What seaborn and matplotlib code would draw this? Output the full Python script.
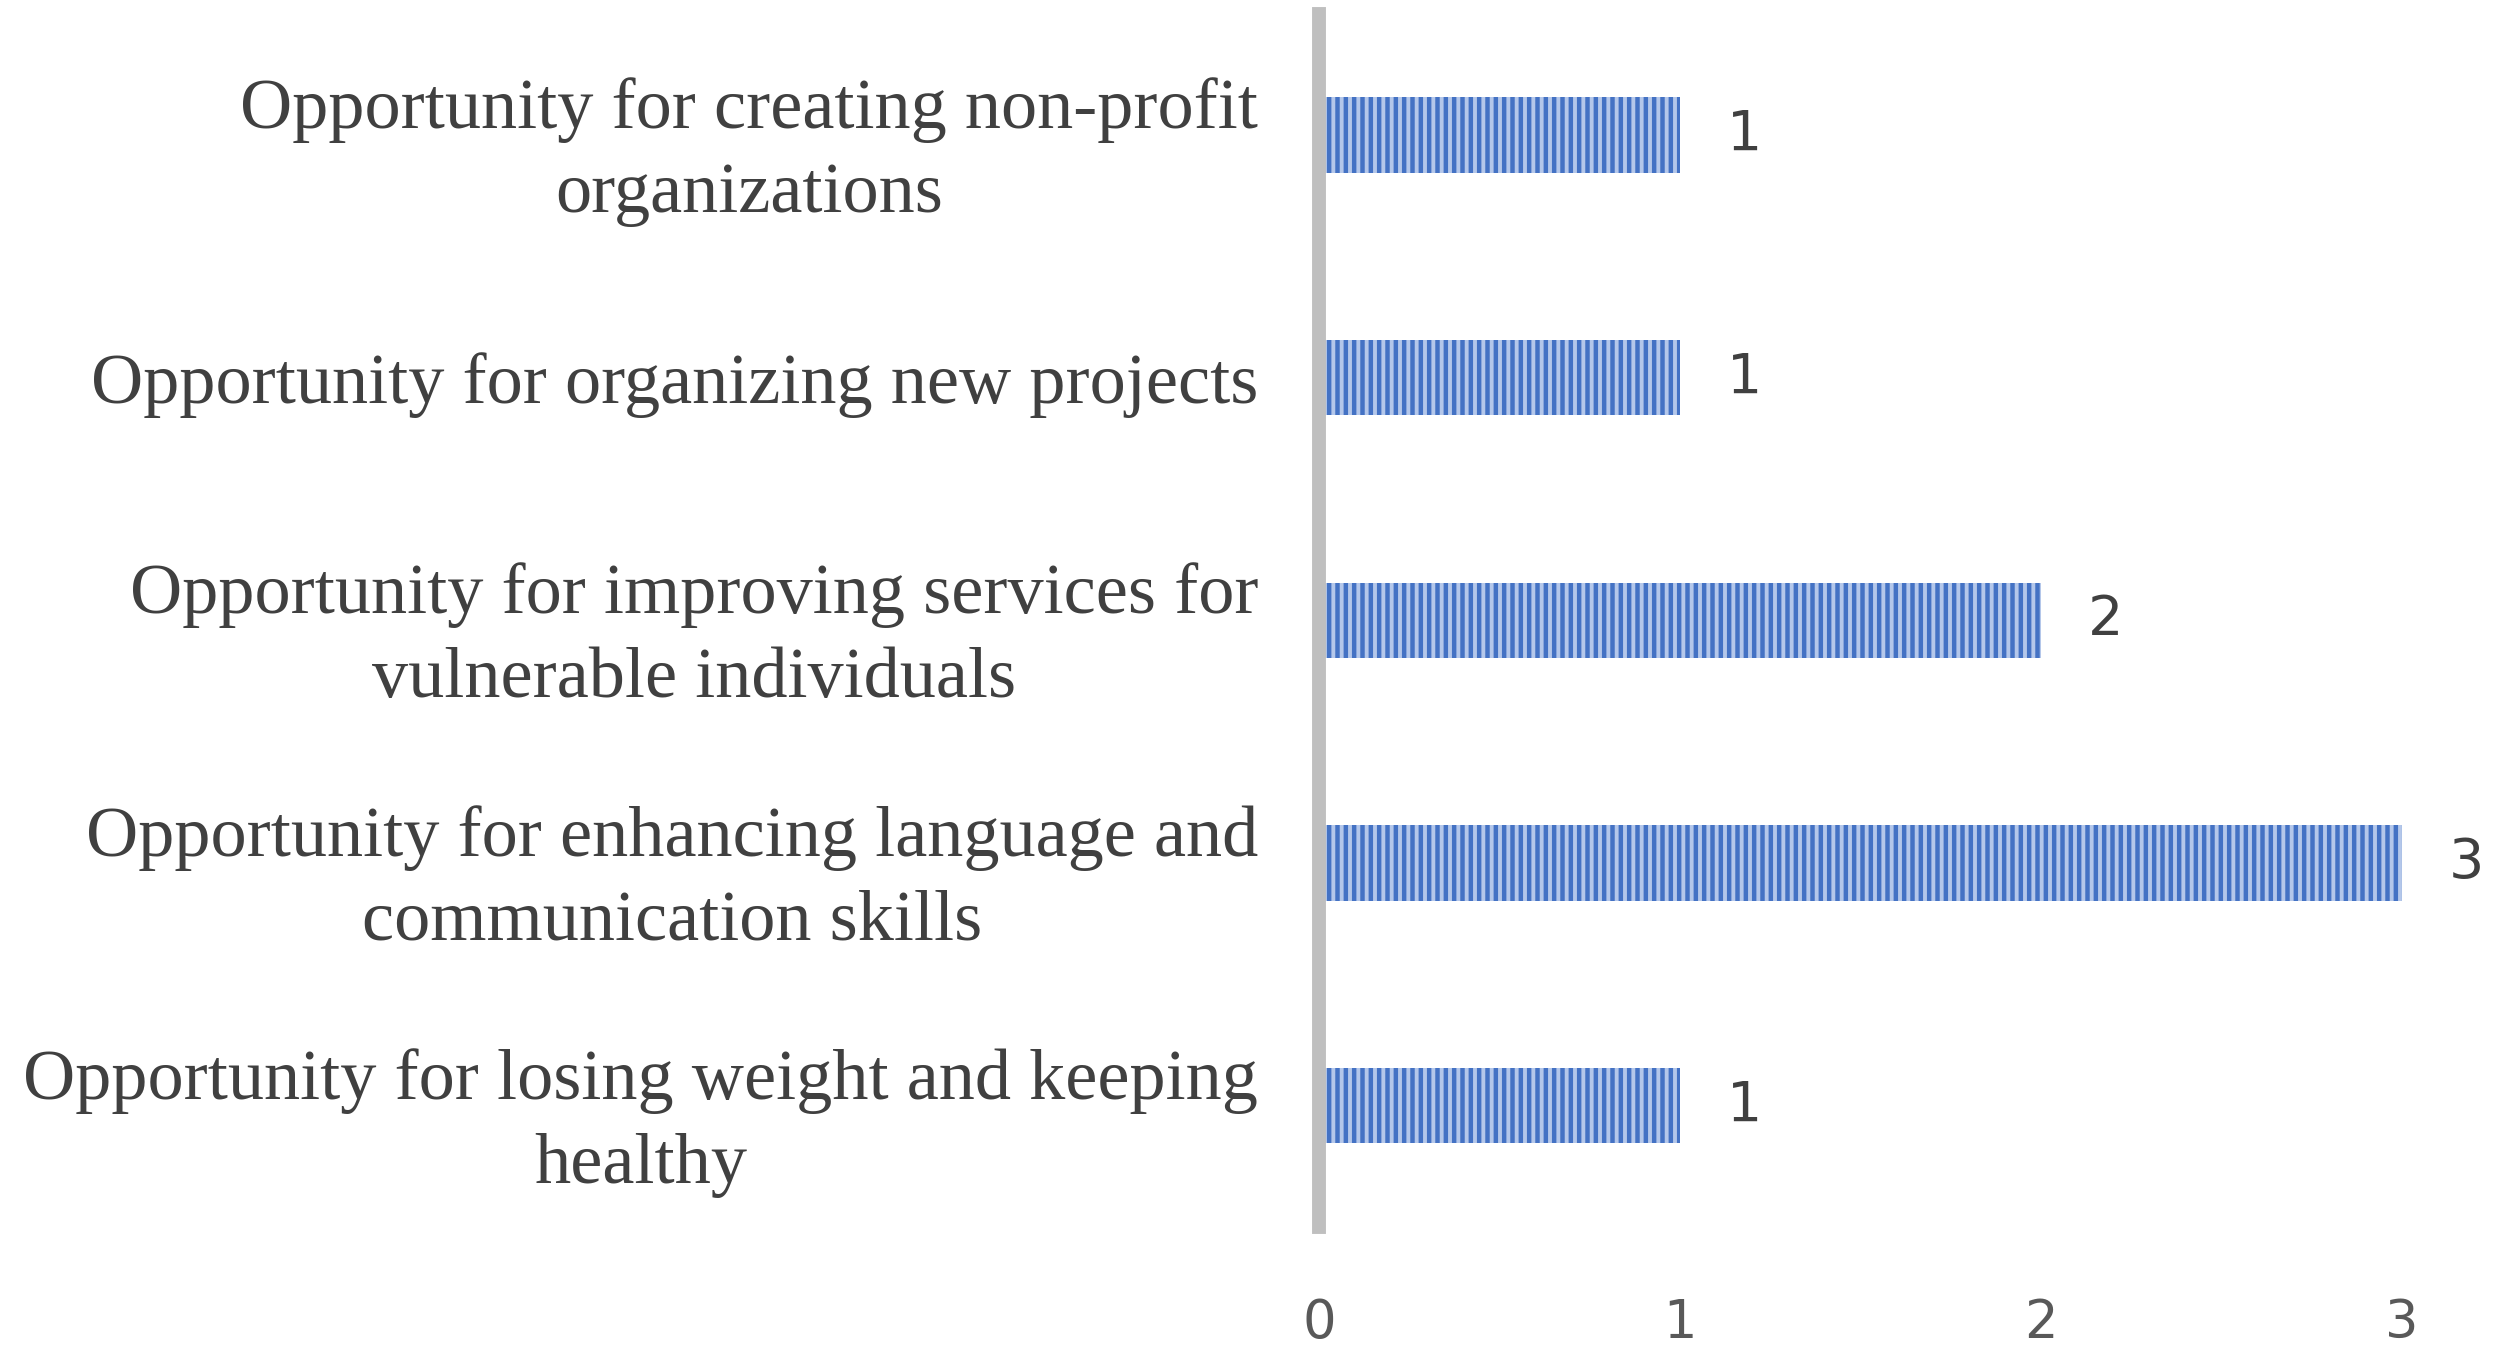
"""Horizontal bar chart: opportunities mentioned by respondents."""

import matplotlib

matplotlib.use("Agg")
import matplotlib.pyplot as plt
import pandas as pd
import seaborn as sns

categories = [
    "Opportunity for creating non-profit\norganizations",
    "Opportunity for organizing new projects",
    "Opportunity for improving services for\nvulnerable individuals",
    "Opportunity for enhancing language and\ncommunication skills",
    "Opportunity for losing weight and keeping\nhealthy",
]
counts = [1, 1, 2, 3, 1]
x_ticks = [0, 1, 2, 3]

BAR_FACE = "#b4c7ea"
BAR_STRIPE = "#4472c4"
AXIS_GRAY = "#bfbfbf"

sns.set_theme(style="white")
plt.rcParams["hatch.linewidth"] = 3.2

df = pd.DataFrame({"category": categories, "count": counts})

fig = plt.figure(figsize=(24.99, 13.68), dpi=100)
ax = fig.add_axes([0.528, 0.103, 0.433, 0.887])

sns.barplot(
    data=df,
    y="category",
    x="count",
    orient="h",
    width=0.31,
    color=BAR_FACE,
    saturation=1,
    ax=ax,
)

for patch in ax.patches:
    patch.set_facecolor(BAR_FACE)
    patch.set_edgecolor(BAR_STRIPE)
    patch.set_hatch("||")
    patch.set_linewidth(0)

ax.bar_label(
    ax.containers[0],
    labels=[str(v) for v in counts],
    padding=34,
    fontsize=40,
    color="#404040",
    family="DejaVu Sans",
)

ax.set_xlim(0, 3)
ax.set_ylim(4.5, -0.5)
ax.set_xticks(x_ticks)
ax.set_xticklabels([str(t) for t in x_ticks], family="DejaVu Sans",
                   fontsize=38, color="#595959")
ax.set_xlabel("")
ax.set_ylabel("")

for lbl in ax.get_yticklabels():
    lbl.set_family("Liberation Serif")
    lbl.set_fontsize(52)
    lbl.set_color("#404040")
    lbl.set_multialignment("center")
    lbl.set_linespacing(1.38)

ax.tick_params(axis="y", length=0, pad=44)
ax.tick_params(axis="x", length=0, pad=50)

for side in ["top", "right", "bottom"]:
    ax.spines[side].set_visible(False)
ax.spines["left"].set_color(AXIS_GRAY)
ax.spines["left"].set_linewidth(10)

fig.savefig("out.png", dpi=100, facecolor="white")
plt.close(fig)
